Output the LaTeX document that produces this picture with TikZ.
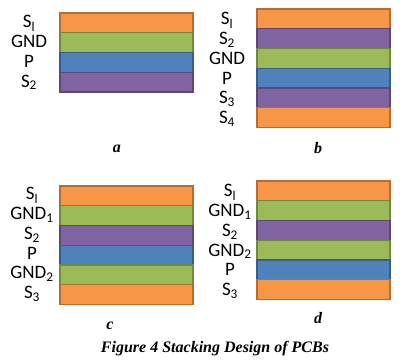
\documentclass[tikz,border=0pt]{standalone}
\usepackage{fontspec}
\setmainfont{Liberation Serif}
\newfontfamily\layerfont{Carlito}
\usetikzlibrary{positioning}

\definecolor{sigorange}{HTML}{F79646}
\definecolor{sigorangeline}{HTML}{B66D31}
\definecolor{gndgreen}{HTML}{9BBB59}
\definecolor{gndgreenline}{HTML}{71893F}
\definecolor{pwrblue}{HTML}{4F81BD}
\definecolor{pwrblueline}{HTML}{385D8A}
\definecolor{sigpurple}{HTML}{8064A2}
\definecolor{sigpurpleline}{HTML}{5C4776}

\tikzset{
	layer/.style={draw,line width=1.2pt,minimum width=133pt,minimum height=19.75pt,
		inner sep=0pt,outer sep=0pt,anchor=north west},
	O/.style={layer,fill=sigorange,draw=sigorangeline},
	G/.style={layer,fill=gndgreen,draw=gndgreenline},
	B/.style={layer,fill=pwrblue,draw=pwrblueline},
	V/.style={layer,fill=sigpurple,draw=sigpurpleline},
	lbl/.style={font=\layerfont\fontsize{19}{19}\selectfont,inner sep=0pt,anchor=base},
	tag/.style={font=\bfseries\itshape\fontsize{16}{16}\selectfont,inner sep=0pt,anchor=base},
}

\begin{document}
\begin{tikzpicture}[x=1pt,y=-1pt]
	\useasboundingbox (0,0) rectangle (400,362);
	%%%%%%%%%%%%%%% a
	\foreach \kind/\txt [count=\i] in {O/S\textsubscript{l},G/GND,B/P,V/S\textsubscript{2}}{
		\node[\kind] (a\i) at (60,{13+19.75*(\i-1)}) {};
		\node[lbl] (la\i) at ([shift={(-31pt,-5pt)}]a\i.west) {\txt};
	}
	\node[tag] (ta) at (117,152) {a};
	%%%%%%%%%%%%%%% b
	\foreach \kind/\txt [count=\i] in {O/S\textsubscript{l},V/S\textsubscript{2},G/GND,B/P,
		V/S\textsubscript{3},O/S\textsubscript{4}}{
		\node[\kind] (b\i) at (257,{9+19.75*(\i-1)}) {};
		\node[lbl] (lb\i) at ([shift={(-30pt,-6pt)}]b\i.west) {\txt};
	}
	\node[tag] (tb) at (318,153) {b};
	%%%%%%%%%%%%%%% c
	\foreach \kind/\txt [count=\i] in {O/S\textsubscript{l},G/GND\textsubscript{1},V/S\textsubscript{2},
		B/P,G/GND\textsubscript{2},O/S\textsubscript{3}}{
		\node[\kind] (c\i) at (60,{186+19.75*(\i-1)}) {};
		\node[lbl] (lc\i) at ([shift={(-28pt,-4pt)}]c\i.west) {\txt};
	}
	\node[tag] (tc) at (110,329) {c};
	%%%%%%%%%%%%%%% d
	\foreach \kind/\txt [count=\i] in {O/S\textsubscript{l},G/GND\textsubscript{1},V/S\textsubscript{2},
		G/GND\textsubscript{2},B/P,O/S\textsubscript{3}}{
		\node[\kind] (d\i) at (257,{181+19.75*(\i-1)}) {};
		\node[lbl] (ld\i) at ([shift={(-27pt,-6pt)}]d\i.west) {\txt};
	}
	\node[tag] (td) at (318,323) {d};
	%%%%%%%%%%%%%%% caption
	\node[tag] (cap) at (215,352) {Figure 4 Stacking Design of PCBs};
\end{tikzpicture}
\end{document}
